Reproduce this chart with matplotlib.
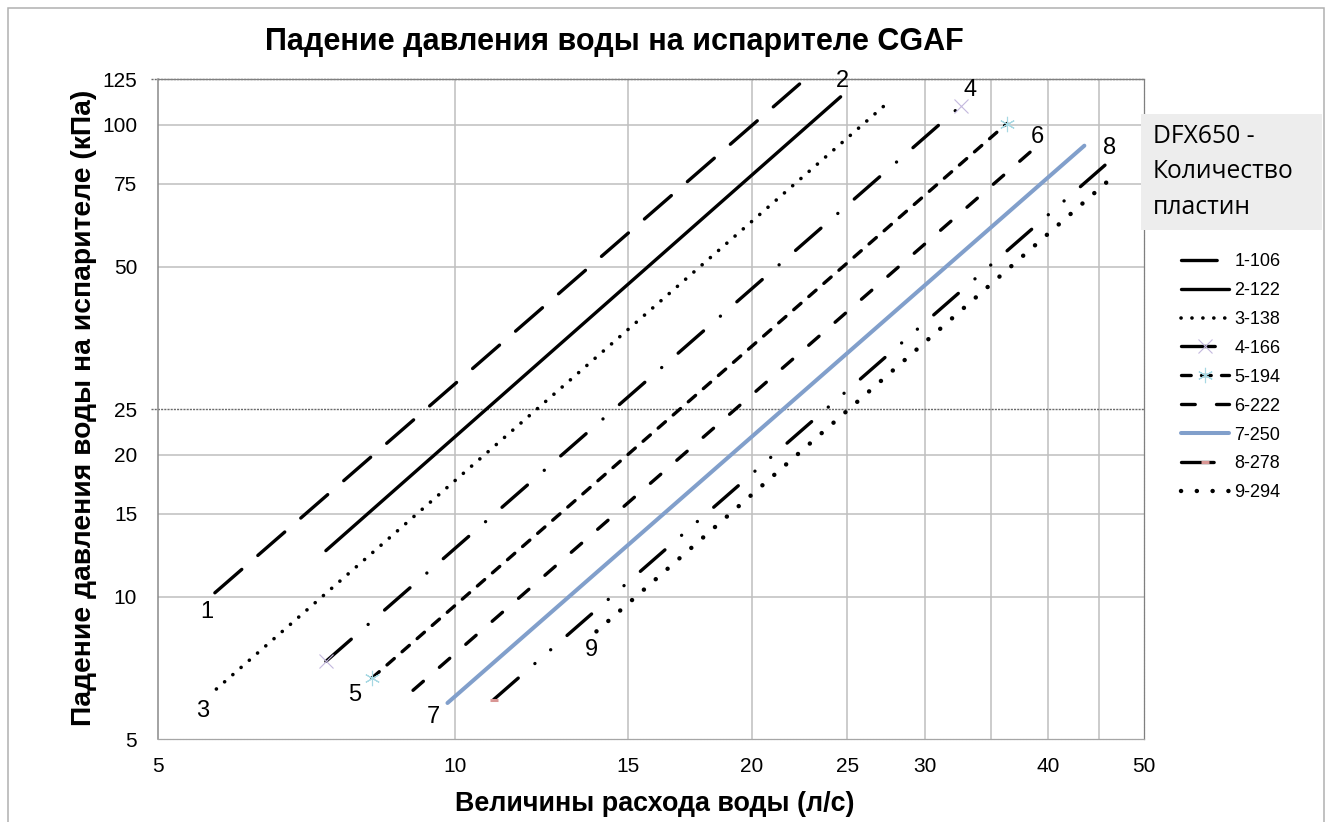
import matplotlib
matplotlib.use("Agg")
from matplotlib import pyplot as plt
from matplotlib.patches import Rectangle

plt.rcParams['font.family'] = ['Liberation Sans', 'DejaVu Sans']
plt.rcParams['lines.scale_dashes'] = False

# series: flow (l/s) at start / end, pressure drop (kPa) at start / end
series_names = ['1-106', '2-122', '3-138', '4-166', '5-194', '6-222', '7-250', '8-278', '9-294']
flow_start = [5.71, 7.40, 5.73, 7.40, 8.24, 9.07, 9.83, 10.95, 13.92]
flow_end = [22.37, 24.62, 27.38, 32.6, 36.3, 38.4, 43.5, 46.4, 46.2]
dp_start = [10.2, 12.53, 6.38, 7.30, 6.73, 6.34, 5.96, 6.06, 8.45]
dp_end = [122.0, 114.6, 110.6, 109.7, 100.6, 87.8, 90.3, 84.6, 76.7]

# curve number labels
label_text = ['1', '2', '3', '4', '5', '6', '7', '8', '9']
label_x = [5.61, 24.74, 5.55, 33.3, 7.92, 39.0, 9.52, 46.1, 13.77]
label_y = [9.30, 123.9, 5.74, 118.6, 6.21, 94.3, 5.57, 89.4, 7.73]

x_ticks = [5, 10, 15, 20, 25, 30, 40, 50]
x_grid = [10, 15, 20, 25, 30, 35, 40, 45]
y_ticks = [5, 10, 15, 20, 25, 50, 75, 100, 125]
y_grid = [10, 15, 20, 50, 75, 100]
y_grid_dotted = [25, 125]

W, H = 1329, 822
fig = plt.figure(figsize=(W / 100, H / 100), dpi=100)
ax = fig.add_axes([158 / W, 1 - 739 / H, (1144 - 158) / W, (739 - 79) / H])
ax.set_xscale('log')
ax.set_yscale('log')
ax.set_xlim(5, 50)
ax.set_ylim(5, 125)

# grid
for gx in x_grid:
    ax.axvline(gx, color='#bfbfbf', lw=1.1, zorder=0)
for gy in y_grid:
    ax.axhline(gy, color='#bfbfbf', lw=1.1, zorder=0)
for gy in y_grid_dotted:
    ax.axhline(gy, xmin=-0.007, xmax=1, color='#6a6a6a', lw=1.0,
               ls=(0, (1.5, 0.8)), clip_on=False, zorder=0)

# line styles (dash patterns in points)
styles = [
    dict(color='black', lw=2.4, ls=(0, (25.7, 15.3))),
    dict(color='black', lw=2.4, ls='-'),
    dict(color='black', lw=2.6, ls=(0, (0.07, 7.8))),
    dict(color='black', lw=2.4, ls=(0, (24.3, 16.1, 0.07, 15.7)),
         marker='x', ms=10, mew=0.8, mec='#c3b8de'),
    dict(color='black', lw=2.4, ls=(0, (7.0, 7.4)),
         marker=(6, 2, 0), ms=11, mew=0.8, mec='#a6d8e3'),
    dict(color='black', lw=2.4, ls=(0, (9.9, 15.3))),
    dict(color='#819fcb', lw=2.9, ls='-'),
    dict(color='black', lw=2.4, ls=(0, (23.5, 15.9, 0.07, 15.0, 0.07, 15.6)),
         marker='_', ms=6, mew=2.2, mec='#d99694', markevery=[0]),
    dict(color='black', lw=3.2, ls=(0, (0.07, 11.3))),
]

handles = []
for i, name in enumerate(series_names):
    ln, = ax.plot([flow_start[i], flow_end[i]], [dp_start[i], dp_end[i]],
                  dash_capstyle='round', solid_capstyle='round', label=name,
                  **styles[i])
    handles.append(ln)

for t, lx, ly in zip(label_text, label_x, label_y):
    ax.text(lx, ly, t, fontsize=17, ha='center', va='center')

# axes look
ax.set_xticks(x_ticks)
ax.set_xticklabels([str(v) for v in x_ticks])
ax.set_yticks(y_ticks)
ax.set_yticklabels([str(v) for v in y_ticks])
ax.set_xticks([5, 50], minor=True)
ax.set_yticks([], minor=True)
ax.tick_params(axis='x', which='major', length=0, pad=13, labelsize=15)
ax.tick_params(axis='x', which='minor', length=6, color='#898989', width=1)
ax.tick_params(axis='y', which='major', length=0, pad=15, labelsize=15)
ax.spines['left'].set_color('#898989')
ax.spines['left'].set_linewidth(1.1)
for s in ['top', 'right', 'bottom']:
    ax.spines[s].set_color('#7f7f7f')
    ax.spines[s].set_linewidth(0.9)
    ax.spines[s].set_linestyle((0, (1.5, 0.8)))
ax.spines['bottom'].set_color('#a6a6a6')

# titles
fig.text(614 / W, 1 - 42 / H, 'Падение давления воды на испарителе CGAF',
         fontsize=22, fontweight='bold', ha='center', va='center')
fig.text(655 / W, 1 - 804 / H, 'Величины расхода воды (л/с)',
         fontsize=19.4, fontweight='bold', ha='center', va='center')
fig.text(84 / W, 1 - 408 / H, 'Падение давления воды на испарителе (кПа)',
         fontsize=20.3, fontweight='bold', ha='center', va='center', rotation=90)

# legend title box
fig.patches.append(Rectangle((1141 / W, 1 - 230 / H), (1322 - 1141) / W, (230 - 114) / H,
                             transform=fig.transFigure, facecolor='#ededed',
                             edgecolor='none', zorder=0))
fig.text(1153 / W, 1 - 172 / H, 'DFX650 -\nКоличество\nпластин',
         fontsize=17.7, family=['Open Sans', 'DejaVu Sans'], ha='left', va='center',
         linespacing=1.55)

leg = fig.legend(handles=handles, labels=series_names, loc='upper left',
                 bbox_to_anchor=(1181 / W, 1 - 253 / H), frameon=False,
                 fontsize=13, handlelength=2.66, handletextpad=0.3,
                 labelspacing=0.66, borderpad=0, borderaxespad=0, numpoints=1)

# chart border
fig.patches.append(Rectangle((8 / W, -0.01), (1324 - 8) / W, 1.01 - 8 / H,
                             transform=fig.transFigure, facecolor='none',
                             edgecolor='#b0b0b0', lw=1.1))

fig.savefig('out.png', dpi=100)
